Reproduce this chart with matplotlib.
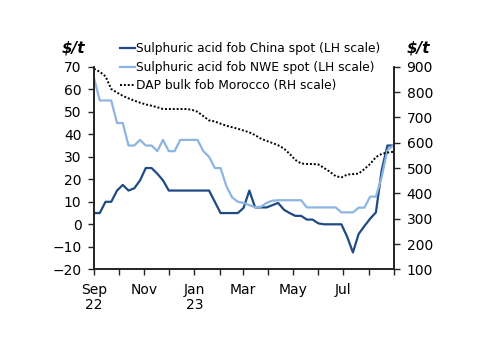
import matplotlib
matplotlib.use("Agg")
import matplotlib.pyplot as plt
import pandas as pd

plt.rcParams["font.family"] = ["DejaVu Sans"]

# Weekly observations, Sep 2022 - Aug 2023
dates = pd.date_range("2022-09-01", periods=53, freq="7D")

china = [5, 5, 10, 10, 15, 17.5, 15, 16, 19.5, 25, 25, 22.5, 19.5, 15,
         15, 15, 15, 15, 15, 15, 15, 10, 5, 5, 5, 5, 7.3, 15, 7.5, 7.5,
         7.5, 8.5, 9.5, 6.5, 5, 3.75, 3.75, 2.1, 2.1, 0.4, 0, 0, 0, 0,
         -5.5, -12.5, -4.3, -0.8, 2.5, 5.3, 24, 35, 35]

nwe = [65, 55, 55, 55, 45, 45, 35, 35, 37.5, 35, 35, 32.5, 37.5, 32.5,
       32.5, 37.5, 37.5, 37.5, 37.5, 32.5, 30, 25, 25, 17, 12, 10, 9.5,
       8.5, 7.6, 7.8, 9.5, 10.5, 10.7, 10.7, 10.7, 10.7, 10.7, 7.5, 7.5,
       7.5, 7.5, 7.5, 7.5, 5.3, 5.3, 5.3, 7.4, 7.4, 12.3, 12.3, 21, 33, 35]

dap = [892, 880, 862, 812, 798, 785, 775, 766, 758, 751, 746, 740, 733,
       733, 733, 733, 733, 730, 722, 705, 688, 684, 675, 667, 661, 655,
       648, 641, 630, 616, 607, 599, 590, 577, 556, 532, 518, 516, 516,
       514, 500, 485, 468, 463, 474, 476, 478, 496, 516, 543, 556, 561, 564]

month_ticks = pd.date_range("2022-09-01", "2023-09-01", freq="MS")
month_labels = ["Sep\n22", "", "Nov", "", "Jan\n23", "", "Mar", "", "May",
                "", "Jul", "", ""]

dark = "#1f4a84"
light = "#8db4e2"

fig = plt.figure(figsize=(5, 3.53), dpi=100)
ax = fig.add_axes([0.188, 0.237, 0.6, 0.574])
ax2 = ax.twinx()

l1, = ax.plot(dates, china, color=dark, lw=1.6)
l2, = ax.plot(dates, nwe, color=light, lw=1.6)
l3, = ax2.plot(dates, dap, color="black", lw=1.4, ls=(0, (1, 1)))

ax.set_xlim(pd.Timestamp("2022-09-01"), pd.Timestamp("2023-09-01"))
ax.set_ylim(-20, 70)
ax.set_yticks(range(-20, 71, 10))
ax2.set_ylim(100, 900)
ax2.set_yticks(range(100, 901, 100))
ax.set_xticks(month_ticks)
ax.set_xticklabels(month_labels, linespacing=1.1)

for a in (ax, ax2):
    a.spines["top"].set_visible(False)
    for s in ("left", "right", "bottom"):
        a.spines[s].set_linewidth(1.2)
        a.spines[s].set_color("#222222")
    a.tick_params(direction="out", length=4, width=1, labelsize=10,
                  color="#222222", pad=5)
ax.tick_params(axis="x", pad=6)

fig.text(0.146, 0.85, "$/t", fontsize=11, fontweight="bold",
         fontstyle="italic", ha="center")
fig.text(0.836, 0.85, "$/t", fontsize=11, fontweight="bold",
         fontstyle="italic", ha="center")

fig.legend([l1, l2, l3],
           ["Sulphuric acid fob China spot (LH scale)",
            "Sulphuric acid fob NWE spot (LH scale)",
            "DAP bulk fob Morocco (RH scale)"],
           loc="upper left", bbox_to_anchor=(0.24, 0.88), frameon=False,
           fontsize=8.8, handlelength=1.25, handletextpad=0.1,
           labelspacing=0.45, borderpad=0, borderaxespad=0)

fig.savefig("out.png", dpi=100)
